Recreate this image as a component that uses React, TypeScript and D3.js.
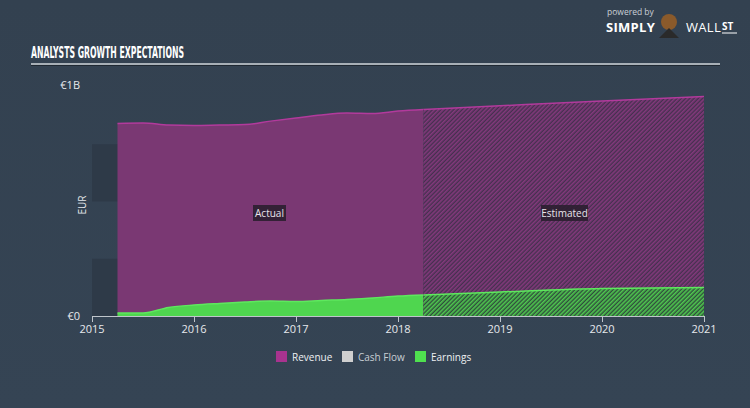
import React from "react";
import * as d3 from "d3";

const actualDates = [2015.25, 2015.5, 2015.75, 2016.0, 2016.25, 2016.5, 2016.75, 2017.0, 2017.25, 2017.5, 2017.75, 2018.0, 2018.25];
const actualRevenue = [841, 843, 834, 832, 834, 836, 851, 865, 878, 886, 884, 895, 902];
const actualEarnings = [13, 13, 37, 48, 55, 61, 65, 63, 68, 72, 79, 87, 92];
const estDates = [2018.25, 2019.0, 2020.0, 2021.0];
const estRevenue = [902, 918, 939, 958];
const estEarnings = [92, 105, 120, 124];
const xTicks = [2015, 2016, 2017, 2018, 2019, 2020, 2021];
const legendItems = ["Revenue", "Cash Flow", "Earnings"];
const legendColors = ["#a8338f", "#cfcfcf", "#4fe04f"];

const W = 750, H = 408;

export default function App() {
  const x = d3.scaleLinear().domain([2015, 2021]).range([92, 704]);
  const y = d3.scaleLinear().domain([0, 1000]).range([316, 87]);
  const area = d3.area<[number, number]>().x(d => x(d[0])).y0(y(0)).y1(d => y(d[1])).curve(d3.curveMonotoneX);
  const line = d3.line<[number, number]>().x(d => x(d[0])).y(d => y(d[1])).curve(d3.curveMonotoneX);
  const zip = (a: number[], b: number[]) => a.map((v, i) => [v, b[i]] as [number, number]);
  const aRev = zip(actualDates, actualRevenue);
  const aEarn = zip(actualDates, actualEarnings);
  const eRev = zip(estDates, estRevenue);
  const eEarn = zip(estDates, estEarnings);
  const bands = [0, 1, 2, 3];
  const bandH = (y(0) - y(1000)) / 4;
  const font = "'Open Sans', 'DejaVu Sans', sans-serif";
  const legendX = [276, 342, 415];

  return (
    <div style={{ position: "absolute", left: 0, top: 0 }}>
      <svg width={W} height={H} style={{ display: "block" }}>
        <defs>
          <linearGradient id="bg" x1="0" y1="0" x2="0" y2="1">
            <stop offset="0" stopColor="#334150" />
            <stop offset="1" stopColor="#354454" />
          </linearGradient>
          <pattern id="hatchRev" patternUnits="userSpaceOnUse" width="3" height="3" patternTransform="rotate(45)">
            <rect width="3" height="3" fill="#45304f" />
            <rect width="1.6" height="3" fill="#83397c" />
          </pattern>
          <pattern id="hatchEarn" patternUnits="userSpaceOnUse" width="3" height="3" patternTransform="rotate(45)">
            <rect width="3" height="3" fill="#2f4c3c" />
            <rect width="1.6" height="3" fill="#4fc84f" />
          </pattern>
        </defs>
        <rect width={W} height={H} fill="url(#bg)" />

        {/* logo */}
        <text x={607} y={15} fill="#c9cfd6" fontSize={8.5} fontFamily={font}>powered by</text>
        <text x={606} y={32} fill="#ffffff" fontSize={13} fontWeight="bold" fontFamily={font} letterSpacing={0.3}>SIMPLY</text>
        <circle cx={669} cy={22} r={8} fill="#8a5a2b" />
        <path d="M659,38 L669,28 L679,38 Z" fill="#2a2a2a" />
        <text x={686} y={32} fill="#ffffff" fontSize={13} fontFamily={font} letterSpacing={0.3}>WALL</text>
        <text x={722} y={30} fill="#ffffff" fontSize={10} fontWeight="bold" fontFamily={font}>ST</text>
        <line x1={722} x2={737} y1={33} y2={33} stroke="#ffffff" strokeWidth={1} />

        {/* title */}
        <text x={31} y={58} fill="#ffffff" fontSize={16} fontWeight="bold" fontFamily="'Liberation Sans Narrow', 'DejaVu Sans Condensed', sans-serif" textLength={153} lengthAdjust="spacingAndGlyphs">ANALYSTS GROWTH EXPECTATIONS</text>
        <line x1={31} x2={720} y1={64} y2={64} stroke="#cfd4d9" strokeWidth={1.5} />
        <line x1={31} x2={720} y1={65.5} y2={65.5} stroke="#1f2832" strokeWidth={1} />

        {/* bands */}
        {bands.map(i => (
          <rect key={i} x={x(2015)} y={y(1000) + i * bandH} width={x(2021) - x(2015)} height={bandH}
            fill={i % 2 === 1 ? "#2e3a48" : "none"} />
        ))}

        {/* actual */}
        <path d={area(aRev) || ""} fill="#7a3873" />
        <path d={line(aRev) || ""} fill="none" stroke="#b23a9c" strokeWidth={1.5} />
        <path d={area(aEarn) || ""} fill="#4fd64f" />
        <path d={line(aEarn) || ""} fill="none" stroke="#5ee85e" strokeWidth={1.5} />

        {/* estimated */}
        <path d={area(eRev) || ""} fill="url(#hatchRev)" />
        <path d={line(eRev) || ""} fill="none" stroke="#b23a9c" strokeWidth={1.5} />
        <path d={area(eEarn) || ""} fill="url(#hatchEarn)" />
        <path d={line(eEarn) || ""} fill="none" stroke="#5ee85e" strokeWidth={1.5} />

        {/* labels */}
        <rect x={253} y={205} width={33} height={16} fill="#2b1f30" opacity={0.9} />
        <text x={269.5} y={216.5} textAnchor="middle" fill="#e8e3ea" fontSize={10} fontFamily={font}>Actual</text>
        <rect x={541} y={205} width={47} height={16} fill="#2b1f30" opacity={0.9} />
        <text x={564.5} y={216.5} textAnchor="middle" fill="#e8e3ea" fontSize={10} fontFamily={font}>Estimated</text>

        {/* y axis labels */}
        <text x={80} y={89} textAnchor="end" fill="#e6e9ec" fontSize={11} fontFamily={font}>€1B</text>
        <text x={80} y={320} textAnchor="end" fill="#e6e9ec" fontSize={11} fontFamily={font}>€0</text>
        <text transform="translate(86,205) rotate(-90)" textAnchor="middle" fill="#e6e9ec" fontSize={10} fontFamily={font}>EUR</text>

        {/* x axis */}
        <line x1={x(2015)} x2={x(2021)} y1={316.5} y2={316.5} stroke="#bfc5cb" strokeWidth={1} />
        {xTicks.map(t => (
          <g key={t}>
            <line x1={x(t) + 0.5} x2={x(t) + 0.5} y1={316} y2={322} stroke="#bfc5cb" strokeWidth={1} />
            <text x={x(t)} y={333} textAnchor="middle" fill="#e6e9ec" fontSize={11} fontFamily={font}>{t}</text>
          </g>
        ))}

        {/* legend */}
        {legendItems.map((name, i) => {
          const lx = legendX[i];
          return (
            <g key={name}>
              <rect x={lx} y={351} width={11} height={11} fill={legendColors[i]} />
              <text x={lx + 16} y={360.5} fill={i === 1 ? "#c8ced4" : "#eef0f2"} fontSize={10} fontFamily={font}>{name}</text>
            </g>
          );
        })}
      </svg>
    </div>
  );
}
